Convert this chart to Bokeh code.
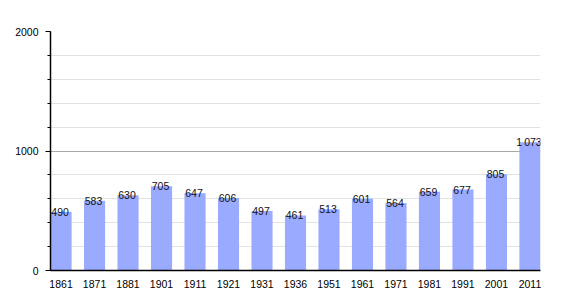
from bokeh.plotting import figure
from bokeh.models import ColumnDataSource, Range1d, FixedTicker
from bokeh.core.properties import value
from bokeh.embed import file_html
from bokeh.resources import INLINE

years = ["1861", "1871", "1881", "1901", "1911", "1921", "1931", "1936",
         "1951", "1961", "1971", "1981", "1991", "2001", "2011"]
population = [490, 583, 630, 705, 647, 606, 497, 461, 513, 601, 564, 659, 677, 805, 1073]
value_labels = ["490", "583", "630", "705", "647", "606", "497", "461",
                "513", "601", "564", "659", "677", "805", "1\u202f073"]
y_ticks = [0, 1000, 2000]
y_minor = [0, 200, 400, 600, 800, 1000, 1200, 1400, 1600, 1800, 2000]

BAR_W = 0.63
idx = list(range(len(years)))
centers = [i + BAR_W / 2 for i in idx]

src = ColumnDataSource(dict(left=idx, right=[i + BAR_W for i in idx],
                            center=centers, pop=population, lab=value_labels))

FONT = "Liberation Sans"
FS = "10.5px"

p = figure(width=570, height=300, output_backend="svg", toolbar_location=None,
           x_range=Range1d(0, 14.63), y_range=Range1d(0, 2000),
           min_border_left=50, min_border_right=30, min_border_top=31,
           min_border_bottom=30)
p.outline_line_color = None
p.background_fill_color = "white"
p.border_fill_color = "white"

p.quad(left="left", right="right", bottom=0, top="pop", source=src,
       fill_color="#99aaff", line_color=None)

p.text(x="center", y="pop", text="lab", source=src, text_align="center",
       text_baseline="alphabetic", text_font=value(FONT), text_font_size=FS,
       text_color="#111111", x_offset=-1, y_offset=0)

# y axis
p.yaxis.ticker = FixedTicker(ticks=y_ticks, minor_ticks=y_minor)
p.yaxis.axis_line_color = "black"
p.yaxis.axis_line_width = 1.5
p.yaxis.major_tick_out = 5
p.yaxis.major_tick_in = 0
p.yaxis.minor_tick_out = 3
p.yaxis.minor_tick_in = 0
p.yaxis.major_tick_line_color = "black"
p.yaxis.minor_tick_line_color = "black"
p.yaxis.major_label_standoff = 7
p.yaxis.major_label_text_font = FONT
p.yaxis.major_label_text_font_size = FS
p.yaxis.major_label_text_color = "black"

# x axis
p.xaxis.ticker = FixedTicker(ticks=centers)
p.xaxis.major_label_overrides = {c: y for c, y in zip(centers, years)}
p.xaxis.major_tick_line_color = None
p.xaxis.minor_tick_line_color = None
p.xaxis.axis_line_color = "black"
p.xaxis.axis_line_width = 1.5
p.xaxis.major_label_standoff = 3
p.xaxis.major_label_text_font = FONT
p.xaxis.major_label_text_font_size = FS
p.xaxis.major_label_text_color = "black"

p.xgrid.grid_line_color = None
p.ygrid.ticker = FixedTicker(ticks=y_ticks, minor_ticks=y_minor)
p.ygrid.grid_line_color = "#aaaaaa"
p.ygrid.minor_grid_line_color = "#e2e2e2"

open("out.html", "w").write(file_html(p, INLINE))
